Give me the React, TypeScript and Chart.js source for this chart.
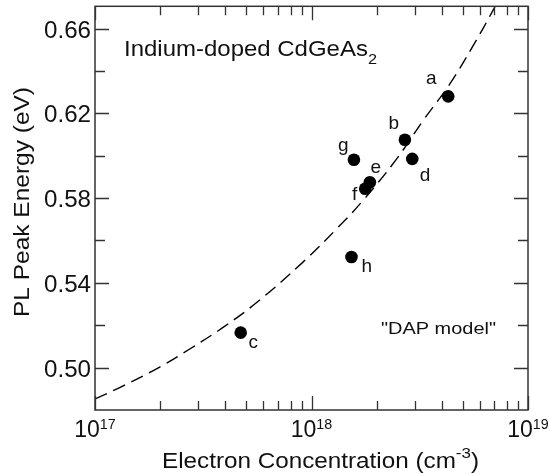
import React, { useEffect, useRef } from 'react';
import { Chart, registerables } from 'chart.js';

Chart.register(...registerables);

// ---- data ----
const sampleNames = ['a', 'b', 'c', 'd', 'e', 'f', 'g', 'h'];
const electronConc = [4.28e18, 2.7e18, 4.71e17, 2.92e18, 1.86e18, 1.77e18, 1.57e18, 1.53e18];
const peakEnergy = [0.628, 0.6075, 0.5165, 0.5985, 0.5875, 0.5844, 0.5981, 0.5522];

const modelConc = [1.0e17, 1.35e17, 2.0e17, 2.75e17, 3.92e17, 5.58e17, 9.16e17, 1.33e18, 1.73e18, 2.47e18, 3.3e18, 4.37e18, 5.58e18, 6.92e18, 7.4e18];
const modelEnergy = [0.4852, 0.4914, 0.5004, 0.5089, 0.5191, 0.5307, 0.5499, 0.5663, 0.5789, 0.5984, 0.6170, 0.6341, 0.6519, 0.6689, 0.6747];

const yMajorTicks = [0.5, 0.54, 0.58, 0.62, 0.66];
const yMinorTicks = [0.52, 0.56, 0.6, 0.64];
const xDecades = [1e17, 1e18, 1e19];
const xDecadeExponents = ['17', '18', '19'];
const xMinorMultipliers = [2, 3, 4, 5, 6, 7, 8, 9];

const xTitle = 'Electron Concentration (cm';
const xTitleSup = '-3';
const yTitle = 'PL Peak Energy (eV)';
const noteTitle = 'Indium-doped CdGeAs';
const noteTitleSub = '2';
const noteModel = '"DAP model"';

// label offsets (px) relative to each point: [dx, baseline dy]
const labelOffsets: [number, number][] = [
  [-17, -12], [-11, -10.7], [12.6, 15], [12.7, 21.7], [6, -8.7], [-10.5, 11.3], [-10.7, -8.3], [15.3, 15.3],
];

const FONT = "'Liberation Sans', Arial, Helvetica, sans-serif";
const fontStr = (size: number) => `${size}px ${FONT}`;

type Part = { t: string; scale?: number; dy?: number };

function drawRich(
  ctx: CanvasRenderingContext2D,
  parts: Part[],
  x: number,
  y: number,
  size: number,
  align: 'left' | 'center' | 'right',
  targetWidth?: number
) {
  let w = 0;
  const widths = parts.map((p) => {
    ctx.font = fontStr(size * (p.scale ?? 1));
    const m = ctx.measureText(p.t).width;
    w += m;
    return m;
  });
  const sx = targetWidth ? targetWidth / w : 1;
  ctx.save();
  ctx.translate(x, y);
  ctx.scale(sx, 1);
  let cx = align === 'left' ? 0 : align === 'center' ? -w / 2 : -w;
  ctx.textAlign = 'left';
  ctx.textBaseline = 'alphabetic';
  parts.forEach((p, i) => {
    ctx.font = fontStr(size * (p.scale ?? 1));
    ctx.fillText(p.t, cx, (p.dy ?? 0) * size);
    cx += widths[i];
  });
  ctx.restore();
}

const framePlugin = {
  id: 'framePlugin',
  afterDraw(chart: any) {
    const ctx: CanvasRenderingContext2D = chart.ctx;
    const { left, right, top, bottom } = chart.chartArea;
    const xs = chart.scales.x;
    const ys = chart.scales.y;
    ctx.save();
    ctx.strokeStyle = '#333';
    ctx.fillStyle = '#111';
    ctx.lineWidth = 1.5;
    ctx.strokeRect(left, top, right - left, bottom - top);

    ctx.lineWidth = 1.3;
    ctx.beginPath();
    const hTick = (v: number, len: number) => {
      const py = Math.round(ys.getPixelForValue(v)) + 0.5;
      ctx.moveTo(left, py);
      ctx.lineTo(left + len, py);
      ctx.moveTo(right, py);
      ctx.lineTo(right - len, py);
    };
    const vTick = (v: number, len: number) => {
      const px = Math.round(xs.getPixelForValue(v)) + 0.5;
      ctx.moveTo(px, bottom);
      ctx.lineTo(px, bottom - len);
      ctx.moveTo(px, top);
      ctx.lineTo(px, top + len);
    };
    yMajorTicks.forEach((v) => hTick(v, 14));
    yMinorTicks.forEach((v) => hTick(v, 10));
    xDecades.forEach((d) => vTick(d, 14));
    xDecades.slice(0, -1).forEach((d) => xMinorMultipliers.forEach((m) => vTick(d * m, 9)));
    ctx.stroke();

    // y tick labels
    yMajorTicks.forEach((v) => {
      const py = ys.getPixelForValue(v);
      drawRich(ctx, [{ t: v.toFixed(2) }], 91, py + 9, 23, 'right', 47);
    });
    // x tick labels
    xDecades.forEach((d, i) => {
      const px = xs.getPixelForValue(d);
      drawRich(ctx, [{ t: '10' }, { t: xDecadeExponents[i], scale: 0.62, dy: -0.34 }], px, 437, 23, 'center');
    });

    // axis titles
    drawRich(ctx, [{ t: xTitle }, { t: xTitleSup, scale: 0.7, dy: -0.45 }, { t: ')' }], 320.5, 468, 22, 'center', 317);
    ctx.save();
    ctx.translate(28.5, 202);
    ctx.rotate(-Math.PI / 2);
    drawRich(ctx, [{ t: yTitle }], 0, 0, 22, 'center', 230);
    ctx.restore();

    // annotations
    drawRich(ctx, [{ t: noteTitle }, { t: noteTitleSub, scale: 0.68, dy: 0.36 }], 124, 56, 22, 'left', 253);
    drawRich(ctx, [{ t: noteModel }], 381, 334, 17, 'left', 115);

    // point labels
    sampleNames.forEach((name, i) => {
      const px = xs.getPixelForValue(electronConc[i]);
      const py = ys.getPixelForValue(peakEnergy[i]);
      ctx.font = fontStr(19);
      ctx.textAlign = 'center';
      ctx.textBaseline = 'alphabetic';
      ctx.fillText(name, px + labelOffsets[i][0], py + labelOffsets[i][1]);
    });
    ctx.restore();
  },
};

export default function App() {
  const ref = useRef<HTMLCanvasElement | null>(null);
  useEffect(() => {
    document.body.style.margin = '0';
    const canvas = ref.current;
    if (!canvas) return;
    const chart = new Chart(canvas, {
      type: 'scatter',
      data: {
        datasets: [
          {
            label: 'DAP model',
            data: modelConc.map((x, i) => ({ x, y: modelEnergy[i] })),
            showLine: true,
            borderColor: '#000',
            borderWidth: 1.4,
            borderDash: [13, 7],
            pointRadius: 0,
            tension: 0.4,
            fill: false,
          } as any,
          {
            label: 'Samples',
            data: electronConc.map((x, i) => ({ x, y: peakEnergy[i] })),
            pointRadius: 6.3,
            pointHoverRadius: 6.3,
            backgroundColor: '#000',
            borderColor: '#000',
            borderWidth: 0,
            showLine: false,
          },
        ],
      },
      options: {
        animation: false,
        responsive: false,
        devicePixelRatio: 1,
        layout: { padding: { left: 95, right: 22, top: 5.5, bottom: 64 } },
        plugins: { legend: { display: false }, tooltip: { enabled: false } },
        scales: {
          x: { type: 'logarithmic', min: 1e17, max: 1e19, display: false },
          y: { type: 'linear', min: 0.48, max: 0.6705, display: false },
        },
      },
      plugins: [framePlugin],
    });
    return () => chart.destroy();
  }, []);
  return (
    <div style={{ width: 550, height: 474, background: '#fff' }}>
      <canvas ref={ref} width={550} height={474} style={{ display: 'block' }} />
    </div>
  );
}
